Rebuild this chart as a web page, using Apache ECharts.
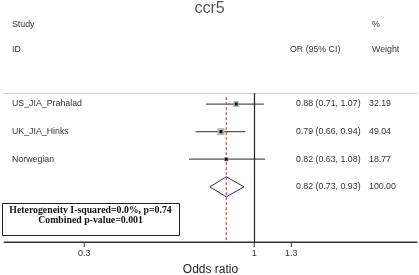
<!DOCTYPE html>
<html>
<head>
<meta charset="utf-8">
<script src="https://cdn.jsdelivr.net/npm/echarts@6/dist/echarts.min.js"></script>
<style>
  html, body { margin: 0; padding: 0; background: #fff; }
  #chart { width: 419px; height: 275px; }
</style>
</head>
<body>
<div id="chart"></div>
<script>
// studies
var studies = ["US_JIA_Prahalad", "UK_JIA_Hinks", "Norwegian"];
var or = [0.88, 0.79, 0.82];
var lower = [0.71, 0.66, 0.63];
var upper = [1.07, 0.94, 1.08];
var weight = [32.19, 49.04, 18.77];
// pooled
var pooled = { or: 0.82, lower: 0.73, upper: 0.93, weight: 100.0 };
var ticks = [0.3, 1, 1.3];
var headers = { study: "Study", id: "ID", ci: "OR (95% CI)", pct: "%", weight: "Weight" };
var hetText = ["Heterogeneity I-squared=0.0%, p=0.74", "Combined p-value=0.001"];

var ln = Math.log;
var fmt = function (v) { return v.toFixed(2); };
var ciText = function (e, l, u) { return fmt(e) + " (" + fmt(l) + ", " + fmt(u) + ")"; };

var rows = studies.map(function (s, i) {
  return [ln(or[i]), i + 1, ln(lower[i]), ln(upper[i]), weight[i]];
});
var pooledRow = [ln(pooled.or), studies.length + 1, ln(pooled.lower), ln(pooled.upper), pooled.weight];
var xMin = ln(0.17), xMax = ln(3.165);
var yMin = 0.6, yMax = 6;

var txt = { fontSize: 8.8, fontFamily: "Liberation Sans, Arial", fill: "#333", verticalAlign: "middle" };

var chart = echarts.init(document.getElementById("chart"));
chart.setOption({
  animation: false,
  title: {
    text: "ccr5",
    left: "center",
    top: -4,
    textStyle: { fontSize: 16, fontWeight: "normal", color: "#555", fontFamily: "Liberation Sans, Arial" }
  },
  grid: { left: 4, right: 2, top: 93, bottom: 33, outerBoundsMode: "none" },
  xAxis: [
    {
      type: "value",
      min: xMin,
      max: xMax,
      name: "Odds ratio",
      nameLocation: "middle",
      nameGap: 22,
      nameTextStyle: { fontSize: 12, color: "#222", fontFamily: "Liberation Sans, Arial" },
      axisLine: { show: true, onZero: false, lineStyle: { color: "#333", width: 1 } },
      axisTick: { show: false },
      axisLabel: { show: false },
      splitLine: { show: false }
    },
    {
      type: "value",
      position: "top",
      min: xMin,
      max: xMax,
      axisLine: { show: true, onZero: false, lineStyle: { color: "#ccc", width: 1 } },
      axisTick: { show: false },
      axisLabel: { show: false },
      splitLine: { show: false }
    }
  ],
  yAxis: {
    type: "value",
    inverse: true,
    min: yMin,
    max: yMax,
    show: false
  },
  graphic: [
    { type: "text", left: 12, top: 20, style: Object.assign({}, txt, { text: headers.study, verticalAlign: "top" }) },
    { type: "text", left: 12, top: 45, style: Object.assign({}, txt, { text: headers.id, verticalAlign: "top" }) },
    { type: "text", left: 290, top: 45, style: Object.assign({}, txt, { text: headers.ci, verticalAlign: "top" }) },
    { type: "text", left: 372, top: 20, style: Object.assign({}, txt, { text: headers.pct, verticalAlign: "top" }) },
    { type: "text", left: 372, top: 45, style: Object.assign({}, txt, { text: headers.weight, verticalAlign: "top" }) },
    {
      type: "group",
      left: 2,
      top: 203,
      children: [
        { type: "rect", shape: { x: 0, y: 0, width: 177, height: 32 }, style: { fill: "#fff", stroke: "#222", lineWidth: 1 } },
        {
          type: "text", x: 88, y: 7,
          style: { text: hetText[0], fontSize: 9.8, fontWeight: "bold", fontFamily: "Liberation Serif, Times New Roman", fill: "#111", align: "center", verticalAlign: "middle" }
        },
        {
          type: "text", x: 88, y: 17,
          style: { text: hetText[1], fontSize: 9.8, fontWeight: "bold", fontFamily: "Liberation Serif, Times New Roman", fill: "#111", align: "center", verticalAlign: "middle" }
        }
      ]
    }
  ],
  series: [
    {
      type: "custom",
      clip: false,
      z: 3,
      encode: { x: [0, 2, 3], y: 1 },
      data: rows,
      renderItem: function (params, api) {
        var i = params.dataIndex;
        var c = api.coord([api.value(0), api.value(1)]);
        var l = api.coord([api.value(2), api.value(1)]);
        var u = api.coord([api.value(3), api.value(1)]);
        var s = Math.sqrt(api.value(4));
        return {
          type: "group",
          children: [
            { type: "line", shape: { x1: l[0], y1: l[1], x2: u[0], y2: u[1] }, style: { stroke: "#555", lineWidth: 1.2 } },
            { type: "rect", shape: { x: c[0] - s / 2, y: c[1] - s / 2, width: s, height: s }, style: { fill: "#b5b5b5" } },
            { type: "rect", shape: { x: c[0] - 1.5, y: c[1] - 1.5, width: 3, height: 3 }, style: { fill: "#111" } },
            { type: "text", x: 12, y: c[1], style: Object.assign({}, txt, { text: studies[i] }) },
            { type: "text", x: 296, y: c[1], style: Object.assign({}, txt, { text: ciText(or[i], lower[i], upper[i]) }) },
            { type: "text", x: 369, y: c[1], style: Object.assign({}, txt, { text: fmt(weight[i]) }) }
          ]
        };
      },
      markLine: {
        silent: true,
        symbol: "none",
        label: { show: false },
        lineStyle: { color: "#222", type: "solid", width: 1.2 },
        data: [{ xAxis: 0 }]
      }
    },
    {
      type: "custom",
      clip: false,
      z: 2,
      encode: { x: [0, 2, 3], y: 1 },
      data: [pooledRow],
      renderItem: function (params, api) {
        var c = api.coord([api.value(0), api.value(1)]);
        var l = api.coord([api.value(2), api.value(1)]);
        var u = api.coord([api.value(3), api.value(1)]);
        var top = api.coord([api.value(0), 0.75]);
        var bot = api.coord([api.value(0), yMax]);
        return {
          type: "group",
          children: [
            { type: "line", shape: { x1: top[0], y1: top[1], x2: bot[0], y2: bot[1] }, style: { stroke: "#a33a3a", lineWidth: 1, lineDash: [3, 2] } },
            {
              type: "polygon",
              shape: { points: [[l[0], c[1]], [c[0], c[1] - 10], [u[0], c[1]], [c[0], c[1] + 10]] },
              style: { fill: "none", stroke: "#2b2b7a", lineWidth: 1 }
            },
            { type: "text", x: 296, y: c[1], style: Object.assign({}, txt, { text: ciText(pooled.or, pooled.lower, pooled.upper) }) },
            { type: "text", x: 369, y: c[1], style: Object.assign({}, txt, { text: fmt(pooled.weight) }) }
          ]
        };
      }
    },
    {
      // bottom axis line and ticks at odds-ratio values, on their own layer
      type: "custom",
      clip: false,
      zlevel: 1,
      z: 10,
      data: ticks.map(function (t) { return [ln(t), yMax]; }),
      renderItem: function (params, api) {
        var p = api.coord([api.value(0), api.value(1)]);
        var children = [
          { type: "line", shape: { x1: p[0], y1: p[1], x2: p[0], y2: p[1] + 5 }, style: { stroke: "#333", lineWidth: 1 } },
          {
            type: "text", x: p[0], y: p[1] + 12,
            style: { text: String(ticks[params.dataIndex]), fontSize: 9, fontFamily: "Liberation Sans, Arial", fill: "#333", align: "center", verticalAlign: "middle" }
          }
        ];
        if (params.dataIndex === 0) {
          var a = api.coord([xMin, yMax]);
          var b = api.coord([xMax, yMax]);
          children.push({ type: "line", shape: { x1: a[0], y1: a[1], x2: b[0], y2: b[1] }, style: { stroke: "#333", lineWidth: 1 } });
        }
        return { type: "group", children: children };
      }
    }
  ]
});
</script>
</body>
</html>
